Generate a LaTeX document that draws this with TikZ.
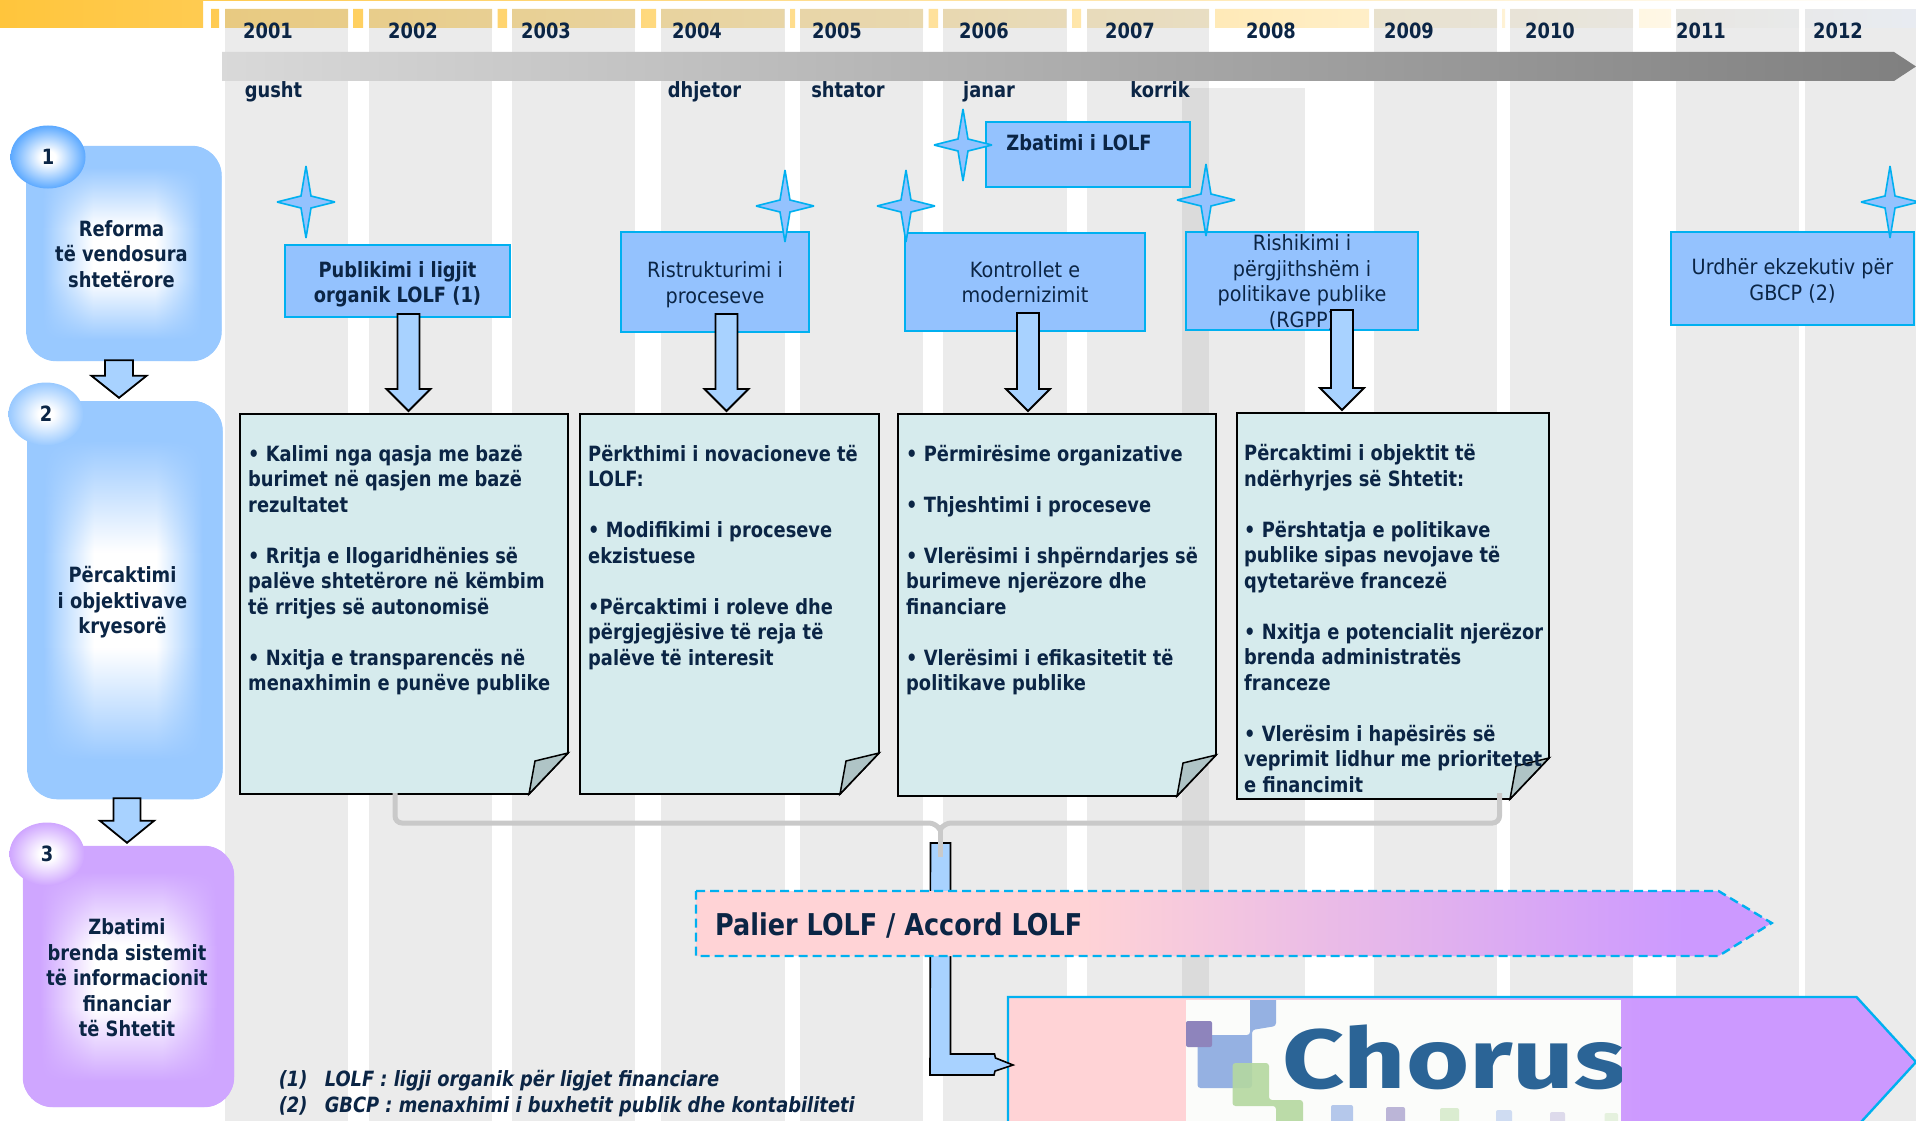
\documentclass[tikz,border=0pt]{standalone}
\usepackage{fontspec}
\setmainfont[UprightFeatures={FakeStretch=0.915},BoldFeatures={FakeStretch=0.85},BoldItalicFeatures={FakeStretch=0.85}]{DejaVu Sans}
\newfontfamily\logofont[FakeStretch=1.29]{Fira Sans}
\usetikzlibrary{shapes.geometric,calc,fadings}

\definecolor{inknavy}{HTML}{0B2545}
\definecolor{coldgray}{HTML}{EBEBEB}
\definecolor{skyfill}{HTML}{94C2FE}
\definecolor{skyedge}{HTML}{00B0F0}
\definecolor{arrowfill}{HTML}{A8D2FF}
\definecolor{paperfill}{HTML}{D6EBED}
\definecolor{foldfill}{HTML}{AFC4C6}
\definecolor{stepblue}{HTML}{99C9FF}
\definecolor{ballblue}{HTML}{5CA9FF}
\definecolor{stepviolet}{HTML}{CFA6FF}
\definecolor{pinkend}{HTML}{FFD3D6}
\definecolor{violetend}{HTML}{CC99FF}
\definecolor{bandstart}{HTML}{FFC53C}
\definecolor{logopaper}{HTML}{FBFCFA}
\definecolor{logoblue}{HTML}{95B1E2}
\definecolor{logogreen}{HTML}{B5D8A0}
\definecolor{logoviolet}{HTML}{8E84BC}

\pgfdeclarehorizontalshading{stepblueshade}{100bp}{color(0bp)=(stepblue); color(29bp)=(stepblue); color(42bp)=(white); color(58bp)=(white); color(70bp)=(stepblue); color(100bp)=(stepblue)}
\pgfdeclarehorizontalshading{stepvioletshade}{100bp}{color(0bp)=(stepviolet); color(29bp)=(stepviolet); color(42bp)=(white); color(58bp)=(white); color(71bp)=(stepviolet); color(100bp)=(stepviolet)}
\pgfdeclareverticalshading{endsmask}{100bp}{color(0bp)=(white); color(30bp)=(white); color(44bp)=(black); color(56bp)=(black); color(70bp)=(white); color(100bp)=(white)}
\pgfdeclarefading{endsfade}{\pgfuseshading{endsmask}}
\pgfdeclareradialshading{ballblueshade}{\pgfpoint{0bp}{0bp}}{color(0bp)=(white); color(5bp)=(white); color(25bp)=(ballblue); color(50bp)=(ballblue)}
\pgfdeclareradialshading{balllightshade}{\pgfpoint{0bp}{0bp}}{color(0bp)=(white); color(5bp)=(white); color(25bp)=(stepblue); color(50bp)=(stepblue)}
\pgfdeclareradialshading{ballvioletshade}{\pgfpoint{0bp}{0bp}}{color(0bp)=(white); color(5bp)=(white); color(25bp)=(stepviolet); color(50bp)=(stepviolet)}
\pgfdeclarehorizontalshading{palierfade}{100bp}{color(0bp)=(pinkend); color(43bp)=(pinkend); color(71bp)=(violetend); color(100bp)=(violetend)}
\pgfdeclarehorizontalshading{chorusfade}{100bp}{color(0bp)=(pinkend); color(35bp)=(pinkend); color(60bp)=(violetend); color(100bp)=(violetend)}

\tikzset{
    basetext/.style={text=inknavy,inner sep=0pt,font=\fontsize{21}{25.5}\selectfont\bfseries},
    thintext/.style={text=inknavy,inner sep=0pt,align=center,font=\fontsize{21}{25.5}\selectfont},
    steptext/.style={basetext,align=center},
    stepbox/.style={rounded corners=30pt,minimum width=195pt},
    stepball/.style={basetext,ellipse,minimum width=75pt,minimum height=63pt},
    bluebox/.style={draw=skyedge,line width=2pt,fill=skyfill,inner sep=0pt},
    sparkle/.style={draw=skyedge,line width=1.6pt,fill=skyfill,miter limit=3},
    blockarrow/.style={draw=black,line width=1.8pt,fill=arrowfill,miter limit=4},
    docbox/.style={inner sep=0pt,outer sep=0pt},
    doctext/.style={basetext,anchor=north west,align=left},
    noteline/.style={basetext,anchor=west,font=\fontsize{21}{25.5}\selectfont\bfseries\itshape},
}

\newcommand{\glowcap}[2]{
    \fill[#2,rounded corners=30pt,path fading=endsfade] (#1.north west) rectangle (#1.south east);
}
\newcommand{\sheet}[1]{
    \draw[black,line width=1.8pt,fill=paperfill] (#1.north west) -- (#1.north east) -- ([yshift=41pt]#1.south east) -- ([xshift=-39pt]#1.south east) -- (#1.south west) -- cycle;
    \draw[black,line width=1.5pt,fill=foldfill] ([xshift=-39pt]#1.south east) -- ([xshift=-33pt,yshift=33pt]#1.south east) -- ([yshift=41pt]#1.south east) -- cycle;
}
\newcommand{\blockdown}[6]{
    \draw[blockarrow] let \p1=(#1.south), \p2=(#2.north) in
        (#3pt-#5pt,\y1+#4pt) -- (#3pt+#5pt,\y1+#4pt) -- (#3pt+#5pt,\y2+25pt) -- (#3pt+#6pt,\y2+25pt)
        -- (#3pt,\y2+3pt) -- (#3pt-#6pt,\y2+25pt) -- (#3pt-#5pt,\y2+25pt) -- cycle;
}

\begin{document}
\begin{tikzpicture}[x=1pt,y=-1pt]
    \useasboundingbox (0,0) rectangle (1916,1121);
    \clip (0,0) rectangle (1916,1121);

    % year columns
    \foreach \a/\b in {225/348,369/492,512/635,661/784.5,800/923,943/1066.5,1087/1209,1374/1497,1510/1633,1676/1799,1805/1916}
        \fill[coldgray] (\a,28) rectangle (\b,1121);
    \fill[coldgray] (1182,88) rectangle (1305,1121);
    \fill[black!14] (1182,88) rectangle (1209,1121);

    % yellow band
    \begin{scope}
        \clip (0,0) rectangle (203,28) (0,0) rectangle (1916,1)
            foreach \a/\b in {211/219,225/348,353/363,369/492,497.5/507,512/635,641/656,661/784.5,790/795,800/923,928.6/938,943/1066.5,1072/1081,1087/1209,1215/1369,1374/1497,1502/1505,1510/1633,1639/1671,1676/1799,1805/1916}
            {(\a,9) rectangle (\b,28)};
        \shade[left color=bandstart,right color=white] (0,0) rectangle (1916,28);
    \end{scope}
    \foreach \a/\b in {225/348,369/492,512/635,661/784.5,800/923,943/1066.5,1087/1209,1374/1497,1510/1633,1676/1799,1805/1916}
        \fill[fill={rgb,255:red,191;green,200;blue,217},opacity=0.35] (\a,9) rectangle (\b,28);

    % time line
    \shade[left color=black!15,right color=black!50] (222,52) -- (1894,52) -- (1916,66.5) -- (1894,81) -- (222,81) -- cycle;
    \foreach \year/\sx in {2001/268,2002/413,2003/546,2004/697,2005/837,2006/984,2007/1130,2008/1271,2009/1409,2010/1550,2011/1701,2012/1838}
        \node[basetext,anchor=base] (y\year) at (\sx,38.5) {\year};
    \foreach \month/\sx in {gusht/273.5,dhjetor/704.5,shtator/848,janar/989,korrik/1160}
        \node[basetext,anchor=base] (m\month) at (\sx,97.5) {\month};

    % steps
    \node[stepbox,shading=stepblueshade,minimum height=215pt] (step1) at (124,253.5) {};
    \node[stepbox,shading=stepblueshade,minimum height=398pt] (step2) at (125,600) {};
    \node[stepbox,shading=stepvioletshade,minimum width=211pt,minimum height=261pt] (step3) at (128.5,976.5) {};
    \glowcap{step1}{stepblue}
    \glowcap{step2}{stepblue}
    \glowcap{step3}{stepviolet}
    \node[steptext] (step1text) at (121.5,254) {Reforma\\të vendosura\\shtetërore};
    \node[steptext] (step2text) at (122.5,602.5) {Përcaktimi\\i objektivave\\kryesorë};
    \node[steptext] (step3text) at (127,978) {Zbatimi\\brenda sistemit\\të informacionit\\financiar\\të Shtetit};
    \node[stepball,shading=ballblueshade] (ball1) at (48,157) {1};
    \node[stepball,shading=balllightshade] (ball2) at (46,414) {2};
    \node[stepball,shading=ballvioletshade] (ball3) at (47,854) {3};
    \blockdown{step1}{step2}{119}{1}{14}{27.5}
    \blockdown{step2}{step3}{127}{1}{13.5}{27}

    % event boxes
    \node[bluebox,minimum width=225pt,minimum height=72pt] (pub) at (397.5,281) {};
    \node[bluebox,minimum width=188pt,minimum height=100pt] (restr) at (715,282) {};
    \node[bluebox,minimum width=240pt,minimum height=98pt] (ctrl) at (1025,282) {};
    \node[bluebox,minimum width=204pt,minimum height=65pt] (impl) at (1088,154.5) {};
    \node[bluebox,minimum width=232pt,minimum height=98pt] (review) at (1302,281) {};
    \node[bluebox,minimum width=243pt,minimum height=93pt] (order) at (1792.5,278.5) {};
    \node[thintext,font=\fontsize{21}{25.5}\selectfont\bfseries] (pubtext) at ([yshift=-3.5pt]pub.center) {Publikimi i ligjit\\organik LOLF (1)};
    \node[thintext] (restrtext) at ([yshift=-2.5pt]restr.center) {Ristrukturimi i\\proceseve};
    \node[thintext] (ctrltext) at (ctrl.center) {Kontrollet e\\modernizimit};
    \node[basetext] (impltext) at (1079,143) {Zbatimi i LOLF};
    \node[thintext] (reviewtext) at ([yshift=-1.2pt]review.center) {Rishikimi i\\përgjithshëm i\\politikave publike\\(RGPP)};
    \node[thintext] (ordertext) at ([yshift=-2.5pt]order.center) {Urdhër ekzekutiv për\\GBCP (2)};
    \foreach \sx/\sy in {306/202,785/206,906/206,963/145,1206/200,1890/202}
        \draw[sparkle,shift={(\sx,\sy)}] (0,-36) -- (5,-6) -- (29,0) -- (5,6) -- (0,36) -- (-5,6) -- (-29,0) -- (-5,-6) -- cycle;

    % sheets
    \node[docbox,minimum width=328pt,minimum height=380pt] (doc1) at (404,604) {};
    \node[docbox,minimum width=299pt,minimum height=380pt] (doc2) at (729.5,604) {};
    \node[docbox,minimum width=318pt,minimum height=382pt] (doc3) at (1057,605) {};
    \node[docbox,minimum width=312pt,minimum height=386pt] (doc4) at (1393,606) {};
    \sheet{doc1}
    \sheet{doc2}
    \sheet{doc3}
    \sheet{doc4}
    \node[doctext] (doc1text) at (248,445) {• Kalimi nga qasja me bazë\\burimet në qasjen me bazë\\rezultatet\\[25.5pt]• Rritja e llogaridhënies së\\palëve shtetërore në këmbim\\të rritjes së autonomisë\\[25.5pt]• Nxitja e transparencës në\\menaxhimin e punëve publike};
    \node[doctext] (doc2text) at (588,445) {Përkthimi i novacioneve të\\LOLF:\\[25.5pt]• Modifikimi i proceseve\\ekzistuese\\[25.5pt]•Përcaktimi i roleve dhe\\përgjegjësive të reja të\\palëve të interesit};
    \node[doctext] (doc3text) at (906,445) {• Përmirësime organizative\\[25.5pt]• Thjeshtimi i proceseve\\[25.5pt]• Vlerësimi i shpërndarjes së\\burimeve njerëzore dhe\\financiare\\[25.5pt]• Vlerësimi i efikasitetit të\\politikave publike};
    \node[doctext] (doc4text) at (1244,444.5) {Përcaktimi i objektit të\\ndërhyrjes së Shtetit:\\[25.5pt]• Përshtatja e politikave\\publike sipas nevojave të\\qytetarëve francezë\\[25.5pt]• Nxitja e potencialit njerëzor\\brenda administratës\\franceze\\[25.5pt]• Vlerësim i hapësirës së\\veprimit lidhur me prioritetet\\e financimit};

    % arrows down to the sheets
    \blockdown{pub}{doc1}{408.5}{4}{11}{22}
    \blockdown{restr}{doc2}{726.5}{19}{11}{22}
    \blockdown{ctrl}{doc3}{1028}{19}{11}{22}
    \blockdown{review}{doc4}{1342}{21}{11}{22}

    % Chorus bar
    \path[shading=chorusfade,draw=skyedge,line width=2.4pt] (1008,997) -- (1856.5,997) -- (1916,1062) -- (1856.5,1127) -- (1008,1127) -- cycle;

    % elbow arrow to Chorus
    \coordinate (elbowtop) at (930.5,843);
    \coordinate (chorusin) at (1013,1065);
    \draw[blockarrow,line width=1.6pt] (elbowtop) -- ++(20,0) -- ++(0,211) -- ++(44,0) -- ++(1,4) -- (chorusin) -- ++(-18,6) -- ++(-1,4) -- ++(-64,0) -- cycle;

    % brace
    \coordinate (bracetip) at (940,857);
    \draw[black!21,line width=5pt,rounded corners=7pt] (395,793) -- (395,823) -- (936,823) -- (940,830);
    \draw[black!21,line width=5pt,rounded corners=7pt] (1499.5,793) -- (1499.5,823) -- (944,823) -- (940,830);
    \draw[black!21,line width=5pt] (940,825) -- (bracetip);

    % Palier bar
    \path[shading=palierfade,draw=skyedge,line width=2.4pt,dash pattern=on 9pt off 5pt] (696,891) -- (1718.5,891) -- (1771.7,923) -- (1718.5,956) -- (696,956) -- cycle;
    \node[basetext,anchor=west,font=\fontsize{30}{32}\selectfont\bfseries] (palier) at (715,925) {Palier LOLF / Accord LOLF};

    % logo
    \fill[logopaper] (1186,1000) rectangle (1621,1121);
    \begin{scope}
        \clip (1186,1000) rectangle (1621,1121);
        \fill[logoblue,rounded corners=3pt] (1250,995) -- (1276,995) -- (1276,1026) -- (1252,1030) -- (1252,1088) -- (1197.5,1088) -- (1197.5,1035) -- (1250,1035) -- cycle;
        \fill[logogreen,opacity=0.9,rounded corners=3pt] (1232.5,1063) -- (1269,1063) -- (1269,1100) -- (1303,1100) -- (1303,1125) -- (1276,1125) -- (1276,1106) -- (1232.5,1106) -- cycle;
        \fill[logoviolet,rounded corners=2pt] (1186,1021) rectangle (1212,1047);
        \fill[logoblue!70!white,rounded corners=2pt] (1331,1105) rectangle (1353,1125);
        \fill[logoviolet!60!white,rounded corners=2pt] (1386,1107) rectangle (1405,1125);
        \fill[logogreen!50!white,rounded corners=2pt] (1440,1108) rectangle (1459,1125);
        \fill[logoblue!45!white,rounded corners=2pt] (1496,1110) rectangle (1512,1125);
        \fill[logoviolet!30!white,rounded corners=2pt] (1550,1112) rectangle (1565,1125);
        \fill[logogreen!35!white,rounded corners=2pt] (1604.5,1113) rectangle (1618,1125);
        \node[anchor=base west,inner sep=0pt,text={rgb,255:red,43;green,100;blue,150},font=\logofont\fontsize{84}{84}\selectfont\bfseries] (chorus) at (1282,1088) {Chorus};
    \end{scope}

    % notes
    \node[noteline] (note1) at (278.6,1081) {\makebox[46pt][l]{(1)}LOLF : ligji organik për ligjet financiare};
    \node[noteline] (note2) at (278.6,1107) {\makebox[46pt][l]{(2)}GBCP : menaxhimi i buxhetit publik dhe kontabiliteti};
\end{tikzpicture}
\end{document}
